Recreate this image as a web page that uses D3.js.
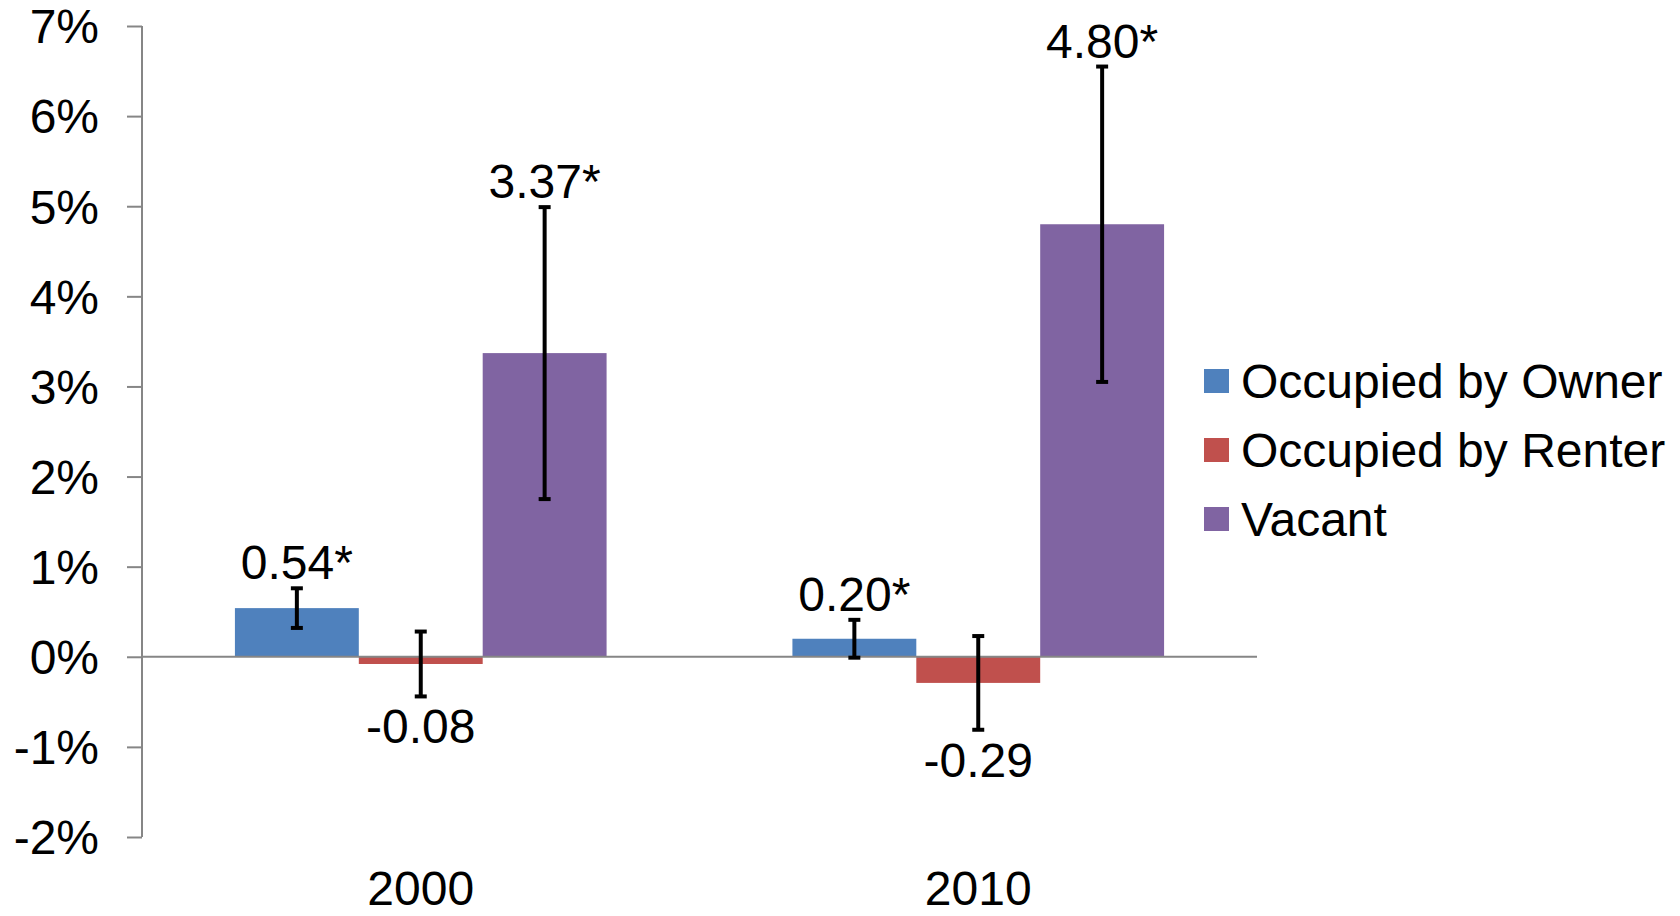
<!DOCTYPE html>
<html>
<head>
<meta charset="utf-8">
<script src="https://cdn.jsdelivr.net/npm/d3@7"></script>
<style>
  body { margin: 0; background: #fff; }
  text { font-family: "Liberation Sans", Arial, sans-serif; fill: #000; }
</style>
</head>
<body>
<div id="chart"></div>
<script>
// data, in percent
var years = ["2000", "2010"];
var series = ["Occupied by Owner", "Occupied by Renter", "Vacant"];
var colors = ["#4F81BD", "#C0504D", "#8064A2"];
var values2000 = [0.54, -0.08, 3.37];
var values2010 = [0.20, -0.29, 4.80];
var errors2000 = [0.22, 0.36, 1.62];
var errors2010 = [0.21, 0.52, 1.75];
var labels2000 = ["0.54*", "-0.08", "3.37*"];
var labels2010 = ["0.20*", "-0.29", "4.80*"];
var yTicks = [-2, -1, 0, 1, 2, 3, 4, 5, 6, 7];

var W = 1680, H = 916,
    margin = {top: 26, right: 423, bottom: 79, left: 142},
    width = W - margin.left - margin.right,
    height = H - margin.top - margin.bottom;

var rows = [];
years.forEach(function(yr, gi) {
  var vals = gi === 0 ? values2000 : values2010,
      errs = gi === 0 ? errors2000 : errors2010,
      labs = gi === 0 ? labels2000 : labels2010;
  series.forEach(function(s, i) {
    rows.push({year: yr, key: s, value: vals[i], err: errs[i], label: labs[i], color: colors[i]});
  });
});

var svg = d3.select("#chart").append("svg")
    .attr("width", W)
    .attr("height", H)
  .append("g")
    .attr("transform", "translate(" + margin.left + "," + margin.top + ")");

var x0 = d3.scaleBand().domain(years).range([0, width]).padding(0);
var x1 = d3.scaleBand().domain(series).range([0, x0.bandwidth()]).paddingInner(0).paddingOuter(0.75);
var y = d3.scaleLinear().domain([-2, 7]).range([height, 0]);

// bars
svg.selectAll(".bar")
  .data(rows)
  .enter().append("rect")
    .attr("class", "bar")
    .attr("x", function(d) { return x0(d.year) + x1(d.key); })
    .attr("width", x1.bandwidth())
    .attr("y", function(d) { return y(Math.max(0, d.value)); })
    .attr("height", function(d) { return Math.abs(y(d.value) - y(0)); })
    .attr("fill", function(d) { return d.color; });

// y axis
var yAxis = d3.axisLeft(y)
  .tickValues(yTicks)
  .tickSize(15)
  .tickPadding(28)
  .tickFormat(function(d) { return d + "%"; });

var gy = svg.append("g").attr("class", "axis").call(yAxis);
gy.select(".domain").attr("stroke", "#868686").attr("stroke-width", 2)
  .attr("d", "M0," + y(7) + "V" + y(-2));
gy.selectAll(".tick line").attr("stroke", "#868686").attr("stroke-width", 2);
gy.selectAll(".tick text")
  .style("font-size", "48px")
  .attr("dy", "0.35em");

// zero line
svg.append("line")
  .attr("x1", 0).attr("x2", width)
  .attr("y1", y(0)).attr("y2", y(0))
  .attr("stroke", "#868686")
  .attr("stroke-width", 2);

// error bars
var cap = 6;
var eb = svg.selectAll(".err")
  .data(rows)
  .enter().append("g")
    .attr("class", "err")
    .attr("transform", function(d) { return "translate(" + (x0(d.year) + x1(d.key) + x1.bandwidth() / 2) + ",0)"; })
    .attr("stroke", "#000")
    .attr("stroke-width", 4);
eb.append("line")
  .attr("y1", function(d) { return y(d.value + d.err); })
  .attr("y2", function(d) { return y(d.value - d.err); });
eb.append("line")
  .attr("x1", -cap).attr("x2", cap)
  .attr("y1", function(d) { return y(d.value + d.err); })
  .attr("y2", function(d) { return y(d.value + d.err); });
eb.append("line")
  .attr("x1", -cap).attr("x2", cap)
  .attr("y1", function(d) { return y(d.value - d.err); })
  .attr("y2", function(d) { return y(d.value - d.err); });

// value labels
svg.selectAll(".lbl")
  .data(rows)
  .enter().append("text")
    .attr("class", "lbl")
    .attr("text-anchor", "middle")
    .style("font-size", "48px")
    .attr("x", function(d) { return x0(d.year) + x1(d.key) + x1.bandwidth() / 2; })
    .attr("y", function(d) {
      return d.value >= 0 ? y(d.value + d.err) - 9 : y(d.value - d.err) + 47;
    })
    .text(function(d) { return d.label; });

// category labels
svg.selectAll(".cat")
  .data(years)
  .enter().append("text")
    .attr("class", "cat")
    .attr("text-anchor", "middle")
    .style("font-size", "48px")
    .attr("x", function(d) { return x0(d) + x0.bandwidth() / 2; })
    .attr("y", 879)
    .text(function(d) { return d; });

// legend
var legend = svg.selectAll(".legend")
  .data(series)
  .enter().append("g")
    .attr("class", "legend")
    .attr("transform", function(d, i) { return "translate(" + (width - 53) + "," + (355 + i * 69) + ")"; });
legend.append("rect")
  .attr("x", 0).attr("y", -12)
  .attr("width", 25).attr("height", 24)
  .attr("fill", function(d, i) { return colors[i]; });
legend.append("text")
  .attr("x", 37)
  .attr("dy", "0.35em")
  .style("font-size", "48px")
  .text(function(d) { return d; });
</script>
</body>
</html>
